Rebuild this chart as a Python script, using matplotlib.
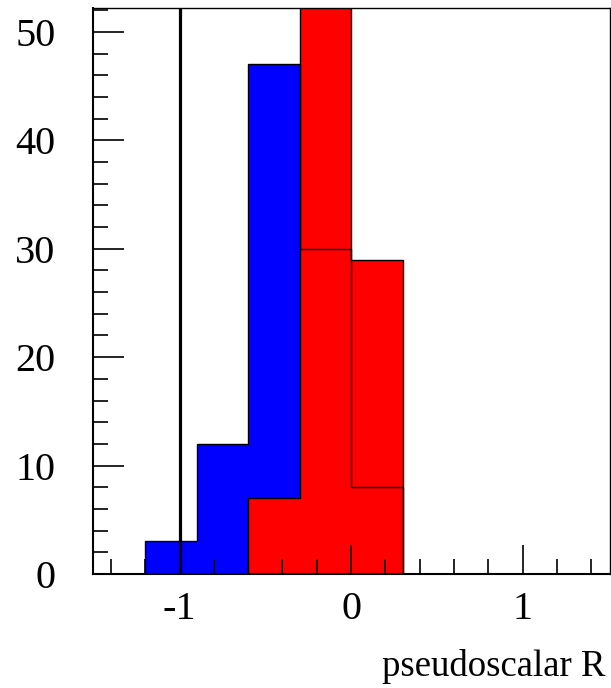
import matplotlib.pyplot as plt

plt.rcParams['font.family'] = ['Liberation Serif', 'DejaVu Serif']

# histogram contents, bins of width 0.3
blue_edges = [-1.2, -0.9, -0.6, -0.3, 0.0, 0.3]
blue_counts = [3, 12, 47, 30, 8]
red_edges = [-0.6, -0.3, 0.0, 0.3]
red_counts = [7, 55, 29]
cut_value = -1.0

fig = plt.figure(figsize=(6.11, 6.88), dpi=100)
ax = fig.add_axes([93 / 611, 114 / 688, 517 / 611, 566 / 688])

# fills first, outlines afterwards (ROOT-like "hist same" overlay)
ax.stairs(blue_counts, blue_edges, fill=True, color='#0000ff', zorder=1)
ax.stairs(red_counts, red_edges, fill=True, color='#ff0000', zorder=1.1)
ax.stairs(red_counts, red_edges, baseline=0, color='black', linewidth=1.0, zorder=1.2)
ax.stairs(blue_counts, blue_edges, baseline=0, color='black', linewidth=1.0, zorder=1.3)
ax.axvline(cut_value, color='black', linewidth=2.3, zorder=1.5)

ax.set_xlim(-1.505, 1.51)
ax.set_ylim(0, 52.2)

ax.set_xticks([-1, 0, 1])
ax.set_xticklabels(['-1', '0', '1'])
ax.set_xticks([x / 10 for x in range(-14, 16, 2)], minor=True)
ax.set_yticks([0, 10, 20, 30, 40, 50])
ax.set_yticks(range(0, 53, 2), minor=True)

ax.tick_params(which='both', direction='in', top=False, right=False, width=1.2)
ax.tick_params(axis='x', which='major', length=21, labelsize=29, pad=12)
ax.tick_params(axis='x', which='minor', length=11)
ax.tick_params(axis='y', which='major', length=22, labelsize=29, pad=27)
ax.tick_params(axis='y', which='minor', length=11)

for side in ['left', 'bottom']:
    ax.spines[side].set_linewidth(1.5)
for side in ['top', 'right']:
    ax.spines[side].set_linewidth(1.0)

fig.text(606 / 611, 1 - 667 / 688, 'pseudoscalar R', ha='right', va='center', fontsize=26.5)

fig.savefig('out.png', dpi=100)
